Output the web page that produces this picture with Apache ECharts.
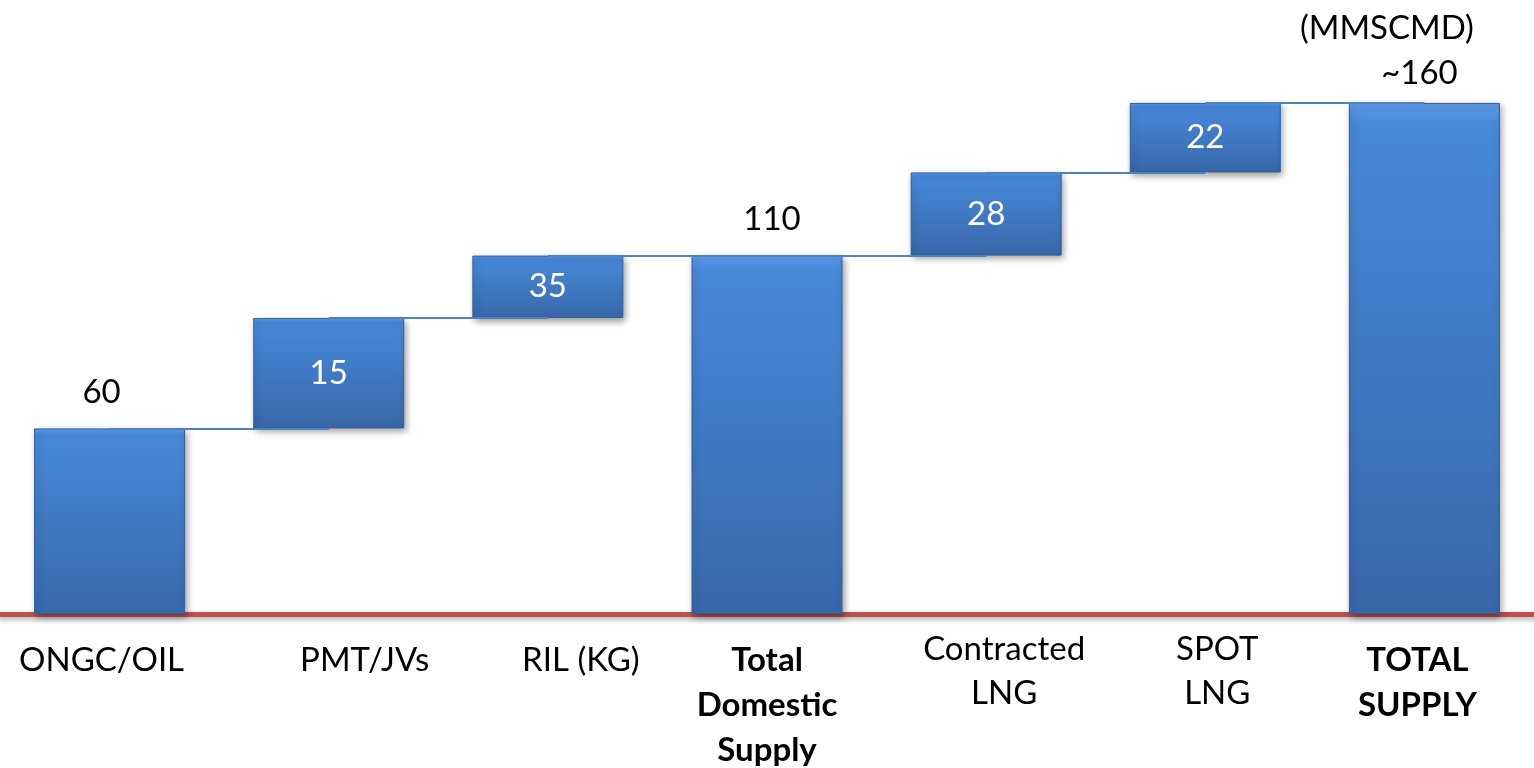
<!DOCTYPE html>
<html>
<head>
<meta charset="utf-8">
<script src="https://cdn.jsdelivr.net/npm/echarts@6/dist/echarts.min.js"></script>
<style>html,body{margin:0;padding:0;background:#fff;}#c{width:1534px;height:768px;}</style>
</head>
<body>
<div id="c"></div>
<script>
// Categories (line-broken as in the picture)
const categories = ['ONGC/OIL', 'PMT/JVs', 'RIL (KG)', 'Total\nDomestic\nSupply', 'Contracted\nLNG', 'SPOT\nLNG', 'TOTAL\nSUPPLY'];
// Whether the category is a total column
const isTotal = [false, false, false, true, false, false, true];
// Waterfall geometry as drawn (bottom level and bar height, MMSCMD)
const barBase = [0, 58, 92.5, 0, 112, 138, 0];
const barSize = [58, 34.5, 19.5, 112, 26, 21.7, 159.7];
// Value labels as printed
const valueLabels = ['60', '15', '35', '110', '28', '22', '~160'];
// Labels placed above the bar (others inside)
const labelAbove = [true, false, false, true, false, false, true];
const unitText = '(MMSCMD)';

const FONT = 'Lato, "Open Sans", sans-serif';
const labelShift = [-8, 36, 33, 0, 18, 12, -7];
const valueShift = [-8, 0, 0, 5, 0, 0, -5];
const twoLineTop = [false, false, false, false, true, true, false];

const rich = { gap: { fontSize: 1, lineHeight: 11 } };
categories.forEach((c, i) => {
  const sh = labelShift[i];
  rich['s' + i] = {
    fontFamily: FONT,
    fontSize: 33,
    color: '#000',
    fontWeight: isTotal[i] ? 'bold' : 'normal',
    lineHeight: isTotal[i] ? 45 : 44,
    padding: sh >= 0 ? [0, 0, 0, sh * 2] : [0, -sh * 2, 0, 0]
  };
});

const chart = echarts.init(document.getElementById('c'));

const connectors = [];
for (let i = 0; i < categories.length - 1; i++) {
  if (isTotal[i]) continue;
  const level = barBase[i] + barSize[i];
  let j = i + 1;
  while (j < categories.length - 1 && isTotal[j]) j++;
  connectors.push([{ coord: [i, level] }, { coord: [j, level] }]);
}

const barGradient = new echarts.graphic.LinearGradient(0, 0, 0, 1, [
  { offset: 0, color: '#5d9de8' },
  { offset: 0.04, color: '#4789da' },
  { offset: 1, color: '#3868aa' }
]);

chart.setOption({
  animation: false,
  title: {
    text: unitText,
    left: 1295,
    top: 7,
    textStyle: { fontFamily: FONT, fontSize: 33, fontWeight: 'normal', color: '#000' }
  },
  grid: { left: -2, right: -7, top: 6, bottom: 154 },
  xAxis: {
    type: 'category',
    data: categories,
    axisLine: {
      show: true,
      lineStyle: { color: '#c0504d', width: 5, shadowColor: 'rgba(0,0,0,0.3)', shadowBlur: 5, shadowOffsetY: 3 }
    },
    axisTick: { show: false },
    axisLabel: {
      interval: 0,
      margin: 13,
      formatter: function (v, idx) {
        const lines = v.split('\n').map(l => '{s' + idx + '|' + l + '}');
        const pre = twoLineTop[idx] ? '' : '{gap| }\n';
        return pre + lines.join('\n');
      },
      rich: rich
    }
  },
  yAxis: {
    type: 'value',
    min: 0,
    max: 190,
    show: false,
    splitLine: { show: false }
  },
  series: [
    {
      type: 'bar',
      stack: 'w',
      barWidth: 151,
      data: barBase,
      itemStyle: { color: 'rgba(0,0,0,0)' },
      emphasis: { disabled: true },
      silent: true,
      markLine: {
        silent: true,
        symbol: 'none',
        label: { show: false },
        lineStyle: { color: '#4f81bd', width: 2, type: 'solid' },
        data: connectors
      }
    },
    {
      type: 'bar',
      stack: 'w',
      barWidth: 151,
      data: barSize.map((v, i) => ({
        value: v,
        label: labelAbove[i]
          ? { position: 'top', distance: i === 6 ? 10 : 16, color: '#000', offset: [valueShift[i], 0] }
          : { position: 'inside', color: '#fff' }
      })),
      itemStyle: {
        color: barGradient,
        borderColor: '#335f9c',
        borderWidth: 1,
        shadowColor: 'rgba(0,0,0,0.4)',
        shadowBlur: 7,
        shadowOffsetX: 2,
        shadowOffsetY: 3
      },
      label: {
        show: true,
        fontFamily: FONT,
        fontSize: 33,
        lineHeight: 40,
        formatter: p => valueLabels[p.dataIndex]
      }
    }
  ]
});
</script>
</body>
</html>
